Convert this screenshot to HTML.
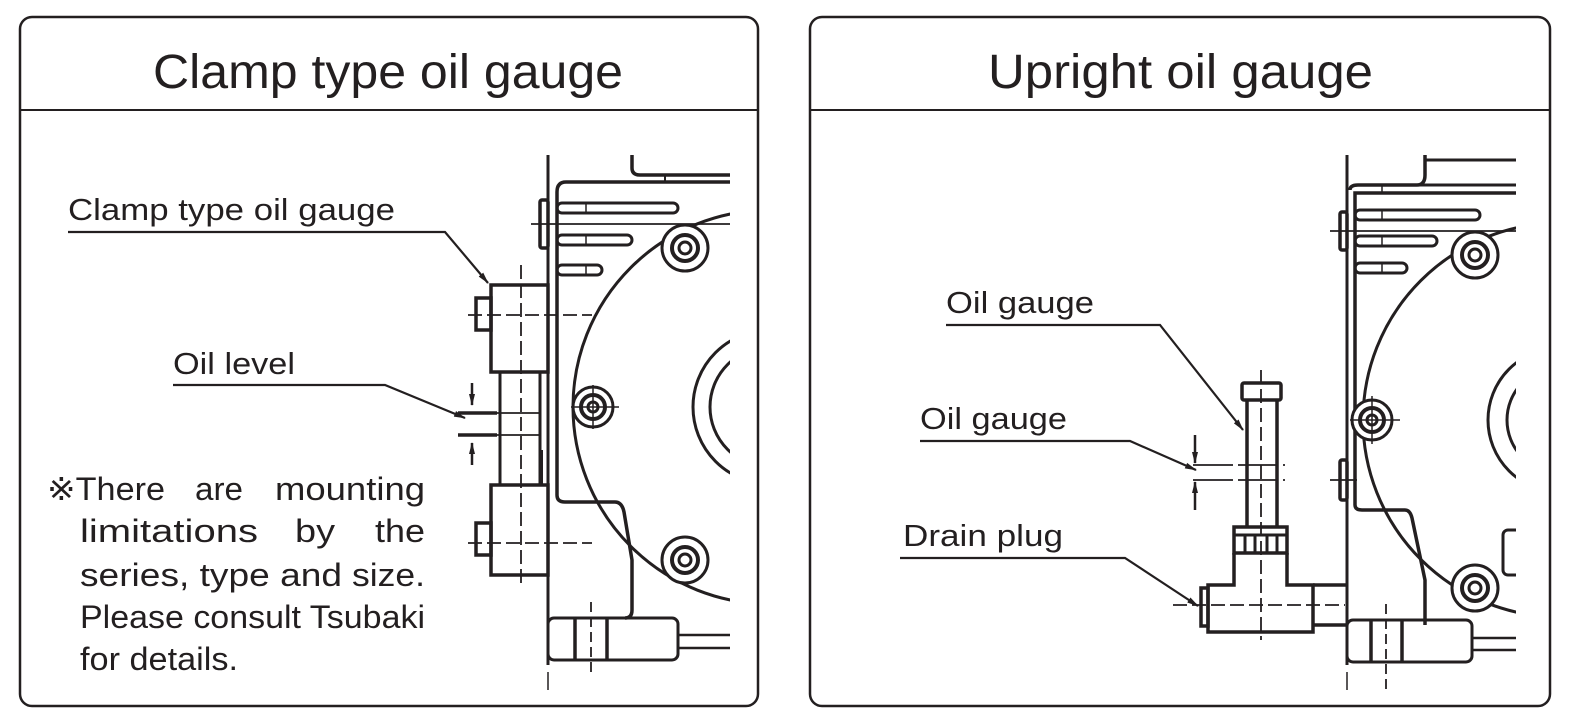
<!DOCTYPE html>
<html><head><meta charset="utf-8"><style>
html,body{margin:0;padding:0;background:#fff;}
svg{display:block;}
text{font-family:"Liberation Sans",sans-serif;fill:#231f20;}
</style></head><body>
<svg width="1579" height="726" viewBox="0 0 1579 726" xmlns="http://www.w3.org/2000/svg">
<defs>
<marker id="ar" markerWidth="12" markerHeight="8" refX="11" refY="4" orient="auto" markerUnits="userSpaceOnUse"><path d="M0,1 L12,4 L0,7 Z" fill="#231f20"/></marker>
<clipPath id="cl"><rect x="440" y="150" width="290" height="540"/></clipPath>
<clipPath id="cr"><rect x="1160" y="150" width="356" height="540"/></clipPath>
</defs>
<g fill="none" stroke="#231f20">
<rect x="20" y="17" width="738" height="689" rx="12" stroke-width="2.5"/>
<line x1="20" y1="110" x2="758" y2="110" stroke-width="2"/>
<rect x="810" y="17" width="740" height="689" rx="12" stroke-width="2.5"/>
<line x1="810" y1="110" x2="1550" y2="110" stroke-width="2"/>
</g>
<text x="153" y="88" font-size="48" textLength="470" lengthAdjust="spacingAndGlyphs">Clamp type oil gauge</text>
<text x="988" y="88" font-size="48" textLength="385" lengthAdjust="spacingAndGlyphs">Upright oil gauge</text>

<!-- LEFT DRAWING -->
<g fill="none" stroke="#231f20" stroke-width="3.5" clip-path="url(#cl)">
<line x1="548" y1="155" x2="548" y2="665" stroke-width="3"/>
<line x1="548" y1="672" x2="548" y2="690" stroke-width="1.5"/>
<path d="M632,155 V168 Q632,175 640,175 H730"/>
<line x1="665" y1="175" x2="665" y2="182" stroke-width="2"/>
<path d="M730,182 H566 Q557,182 557,192 V495 Q557,502 565,502 H615 Q622,502 624,512 L632,560 V610 Q632,618 625,618"/>
<rect x="557" y="203" width="121" height="10" rx="5" stroke-width="3"/>
<rect x="557" y="235" width="75" height="10" rx="5" stroke-width="3"/>
<rect x="557" y="265" width="45" height="10" rx="5" stroke-width="3"/>
<line x1="586" y1="203" x2="586" y2="213" stroke-width="1.5"/>
<line x1="586" y1="235" x2="586" y2="245" stroke-width="1.5"/>
<line x1="586" y1="265" x2="586" y2="275" stroke-width="1.5"/>
<rect x="540" y="200" width="8" height="48" rx="2" stroke-width="3.5"/>
<line x1="531" y1="224" x2="730" y2="224" stroke-width="1.8"/>
<circle cx="770" cy="407" r="197" stroke-width="3"/>
<circle cx="770" cy="407" r="77" stroke-width="3"/>
<circle cx="770" cy="407" r="60" stroke-width="3"/>
<g stroke-width="3">
<circle cx="593" cy="407" r="20" fill="#fff"/>
<circle cx="593" cy="407" r="12" stroke-width="4"/><circle cx="593" cy="407" r="5"/>
<line x1="571" y1="407" x2="619" y2="407" stroke-width="1.5"/><line x1="593" y1="385" x2="593" y2="429" stroke-width="1.5"/>
<circle cx="685" cy="248" r="23" fill="#fff"/>
<circle cx="685" cy="248" r="13" stroke-width="4"/><circle cx="685" cy="248" r="6"/>
<circle cx="685" cy="560" r="23" fill="#fff"/>
<circle cx="685" cy="560" r="13" stroke-width="4"/><circle cx="685" cy="560" r="6"/>
</g>
<rect x="548" y="618" width="130" height="42" rx="6" stroke-width="3"/>
<line x1="575" y1="618" x2="575" y2="660" stroke-width="3.5"/>
<line x1="607" y1="618" x2="607" y2="660" stroke-width="3.5"/>
<line x1="591" y1="602" x2="591" y2="672" stroke-width="1.8" stroke-dasharray="10,5"/>
<line x1="678" y1="635" x2="730" y2="635" stroke-width="2.5"/>
<line x1="678" y1="648" x2="730" y2="648" stroke-width="2.5"/>
<rect x="491" y="285" width="57" height="87" stroke-width="3.5" fill="#fff"/>
<rect x="476" y="298" width="15" height="32" stroke-width="3.5"/>
<rect x="500" y="372" width="40" height="113" stroke-width="3"/>
<line x1="541" y1="450" x2="541" y2="485" stroke-width="4"/>
<rect x="491" y="485" width="57" height="90" stroke-width="3.5" fill="#fff"/>
<rect x="476" y="523" width="15" height="32" stroke-width="3.5"/>
<line x1="521" y1="265" x2="521" y2="588" stroke-width="1.8" stroke-dasharray="14,5"/>
<line x1="468" y1="315" x2="592" y2="315" stroke-width="1.8" stroke-dasharray="14,5"/>
<line x1="468" y1="543" x2="592" y2="543" stroke-width="1.8" stroke-dasharray="14,5"/>
<line x1="458" y1="413" x2="540" y2="413" stroke-width="1.8"/>
<line x1="458" y1="435" x2="540" y2="435" stroke-width="1.8"/>
<line x1="458" y1="413" x2="497" y2="413" stroke-width="3.5"/>
<line x1="458" y1="435" x2="497" y2="435" stroke-width="3.5"/>
<line x1="472" y1="383" x2="472" y2="405" stroke-width="2.5" marker-end="url(#ar)"/>
<line x1="472" y1="465" x2="472" y2="443" stroke-width="2.5" marker-end="url(#ar)"/>
</g>
<g fill="none" stroke="#231f20" stroke-width="2.2">
<path d="M68,232 H445 L488,283" marker-end="url(#ar)"/>
<path d="M173,385 H385 L465,418" marker-end="url(#ar)"/>
</g>
<text x="68" y="220" font-size="31" textLength="327" lengthAdjust="spacingAndGlyphs">Clamp type oil gauge</text>
<text x="173" y="374" font-size="31" textLength="122" lengthAdjust="spacingAndGlyphs">Oil level</text>
<g font-size="32">
<text x="47" y="500" textLength="118" lengthAdjust="spacingAndGlyphs">※There</text>
<text x="195" y="500" textLength="48" lengthAdjust="spacingAndGlyphs">are</text>
<text x="275" y="500" textLength="150" lengthAdjust="spacingAndGlyphs">mounting</text>
<text x="80" y="542" textLength="178" lengthAdjust="spacingAndGlyphs">limitations</text>
<text x="295" y="542" textLength="40" lengthAdjust="spacingAndGlyphs">by</text>
<text x="375" y="542" textLength="50" lengthAdjust="spacingAndGlyphs">the</text>
<text x="80" y="586" textLength="262" lengthAdjust="spacingAndGlyphs">series, type and</text>
<text x="352" y="586" textLength="73" lengthAdjust="spacingAndGlyphs">size.</text>
<text x="80" y="628" textLength="345" lengthAdjust="spacingAndGlyphs">Please consult Tsubaki</text>
<text x="80" y="670" textLength="158" lengthAdjust="spacingAndGlyphs">for details.</text>
</g>

<!-- RIGHT DRAWING -->
<g fill="none" stroke="#231f20" stroke-width="3.5" clip-path="url(#cr)">
<line x1="1347" y1="155" x2="1347" y2="665" stroke-width="3"/>
<line x1="1347" y1="672" x2="1347" y2="690" stroke-width="1.5"/>
<path d="M1425,155 V175 Q1425,185 1417,185 H1358 Q1350,185 1350,190"/>
<line x1="1425" y1="160" x2="1516" y2="160" stroke-width="3"/>
<line x1="1417" y1="185" x2="1516" y2="185" stroke-width="3"/>
<path d="M1516,193 H1355 V505 Q1355,510 1362,510 H1405 Q1410,510 1412,518 L1425,580 V625"/>
<rect x="1355" y="210" width="125" height="10" rx="5" stroke-width="3"/>
<rect x="1355" y="236" width="82" height="10" rx="5" stroke-width="3"/>
<rect x="1355" y="263" width="52" height="10" rx="5" stroke-width="3"/>
<line x1="1382" y1="185" x2="1382" y2="193" stroke-width="1.5"/>
<line x1="1382" y1="210" x2="1382" y2="220" stroke-width="1.5"/>
<line x1="1382" y1="236" x2="1382" y2="246" stroke-width="1.5"/>
<line x1="1382" y1="263" x2="1382" y2="273" stroke-width="1.5"/>
<rect x="1340" y="212" width="7" height="38" rx="2" stroke-width="3.5"/>
<line x1="1330" y1="231" x2="1516" y2="231" stroke-width="1.8"/>
<rect x="1340" y="460" width="7" height="40" rx="2" stroke-width="3.5"/>
<line x1="1330" y1="480" x2="1357" y2="480" stroke-width="1.8"/>
<circle cx="1560" cy="420" r="197" stroke-width="3"/>
<circle cx="1560" cy="420" r="72" stroke-width="3"/>
<circle cx="1560" cy="420" r="53" stroke-width="3"/>
<rect x="1503" y="530" width="20" height="45" rx="5" stroke-width="3"/>
<g stroke-width="3">
<circle cx="1372" cy="420" r="20" fill="#fff"/>
<circle cx="1372" cy="420" r="12" stroke-width="4"/><circle cx="1372" cy="420" r="5"/>
<line x1="1350" y1="420" x2="1400" y2="420" stroke-width="1.5"/><line x1="1372" y1="396" x2="1372" y2="444" stroke-width="1.5"/>
<circle cx="1475" cy="255" r="23" fill="#fff"/>
<circle cx="1475" cy="255" r="13" stroke-width="4"/><circle cx="1475" cy="255" r="6"/>
<circle cx="1475" cy="588" r="23" fill="#fff"/>
<circle cx="1475" cy="588" r="13" stroke-width="4"/><circle cx="1475" cy="588" r="6"/>
</g>
<rect x="1347" y="620" width="125" height="42" rx="6" stroke-width="3"/>
<line x1="1371" y1="620" x2="1371" y2="662" stroke-width="3.5"/>
<line x1="1402" y1="620" x2="1402" y2="662" stroke-width="3.5"/>
<line x1="1386" y1="604" x2="1386" y2="690" stroke-width="1.8" stroke-dasharray="10,5"/>
<line x1="1472" y1="638" x2="1516" y2="638" stroke-width="2.5"/>
<line x1="1472" y1="650" x2="1516" y2="650" stroke-width="2.5"/>
<rect x="1242" y="383" width="39" height="17" rx="2" stroke-width="3.5"/>
<line x1="1247" y1="400" x2="1247" y2="527" stroke-width="3.5"/>
<line x1="1277" y1="400" x2="1277" y2="527" stroke-width="3.5"/>
<rect x="1234" y="527" width="53" height="26" stroke-width="3.5"/>
<line x1="1234" y1="535" x2="1287" y2="535" stroke-width="3"/>
<line x1="1245" y1="535" x2="1245" y2="553" stroke-width="3"/>
<line x1="1255" y1="535" x2="1255" y2="553" stroke-width="3"/>
<line x1="1267" y1="535" x2="1267" y2="553" stroke-width="3"/>
<line x1="1277" y1="535" x2="1277" y2="553" stroke-width="3"/>
<path d="M1234,553 V585 H1208 V632 H1313 V585 H1287 V553"/>
<rect x="1201" y="588" width="7" height="38" stroke-width="3.5"/>
<line x1="1313" y1="585" x2="1347" y2="585" stroke-width="3.5"/>
<line x1="1313" y1="625" x2="1347" y2="625" stroke-width="3.5"/>
<line x1="1261" y1="370" x2="1261" y2="640" stroke-width="1.8" stroke-dasharray="14,5"/>
<line x1="1173" y1="605" x2="1345" y2="605" stroke-width="1.8" stroke-dasharray="14,5"/>
<line x1="1193" y1="465" x2="1285" y2="465" stroke-width="1.8" stroke-dasharray="40,5"/>
<line x1="1193" y1="480" x2="1285" y2="480" stroke-width="1.8" stroke-dasharray="40,5"/>
<line x1="1195" y1="435" x2="1195" y2="463" stroke-width="2.5" marker-end="url(#ar)"/>
<line x1="1195" y1="510" x2="1195" y2="482" stroke-width="2.5" marker-end="url(#ar)"/>
</g>
<g fill="none" stroke="#231f20" stroke-width="2.2">
<path d="M946,325 H1160 L1243,430" marker-end="url(#ar)"/>
<path d="M920,441 H1130 L1196,470" marker-end="url(#ar)"/>
<path d="M900,558 H1125 L1198,606" marker-end="url(#ar)"/>
</g>
<text x="946" y="313" font-size="31" textLength="148" lengthAdjust="spacingAndGlyphs">Oil gauge</text>
<text x="920" y="429" font-size="31" textLength="147" lengthAdjust="spacingAndGlyphs">Oil gauge</text>
<text x="903" y="546" font-size="31" textLength="160" lengthAdjust="spacingAndGlyphs">Drain plug</text>
</svg>
</body></html>
